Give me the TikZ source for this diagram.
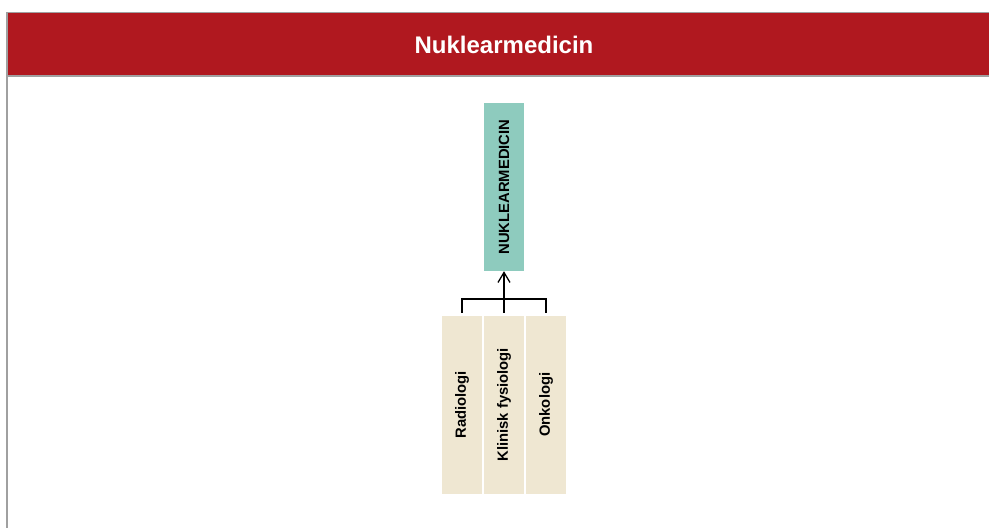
\documentclass[tikz,border=0pt]{standalone}
\usepackage{fontspec}
\usepackage{graphicx}
\setmainfont{Liberation Sans}
\usetikzlibrary{arrows.meta}
\definecolor{hdrred}{HTML}{B0181F}
\definecolor{frame}{HTML}{A0A0A0}
\definecolor{teal}{HTML}{8ECBBE}
\definecolor{beige}{HTML}{EFE7D2}
\tikzset{
  topbox/.style={fill=teal, draw=none, minimum width=40pt, minimum height=168pt, inner sep=0pt,
    font=\fontsize{14.8}{17}\selectfont\bfseries},
  subbox/.style={fill=beige, draw=none, minimum width=40pt, minimum height=177.5pt, inner sep=0pt,
    font=\fontsize{14.8}{17}\selectfont\bfseries},
  conn/.style={draw=black, line width=1.3pt},
  framel/.style={draw=frame, line width=1.5pt},
}
\begin{document}
\begin{tikzpicture}[x=1pt,y=-1pt]
\useasboundingbox (0,0) rectangle (989,528);
% header band
\fill[hdrred] (7,12.5) rectangle (989,75.5);
\draw[framel] (989,12.5) -- (7,12.5) -- (7,528);
\draw[framel] (7,75.8) -- (989,75.8);
\node[text=white, font=\fontsize{24}{28}\selectfont\bfseries] (title) at (504,44.5) {Nuklearmedicin};
% nodes
\node[topbox] (t) at (504,187) {\rotatebox{90}{NUKLEARMEDICIN}};
\node[subbox] (r) at (462,404.75) {\rotatebox{90}{Radiologi}};
\node[subbox] (k) at (504,404.75) {\rotatebox{90}{Klinisk fysiologi}};
\node[subbox] (o) at (546,404.75) {\rotatebox{90}{Onkologi}};
\coordinate (j) at (504,299);
% connectors
\draw[conn] ([yshift=3pt]r.north) |- (j) -| ([yshift=3pt]o.north);
\draw[conn, -{Straight Barb[length=10pt,width=12pt]}] ([yshift=3pt]k.north) -- (t.south);
\end{tikzpicture}
\end{document}
